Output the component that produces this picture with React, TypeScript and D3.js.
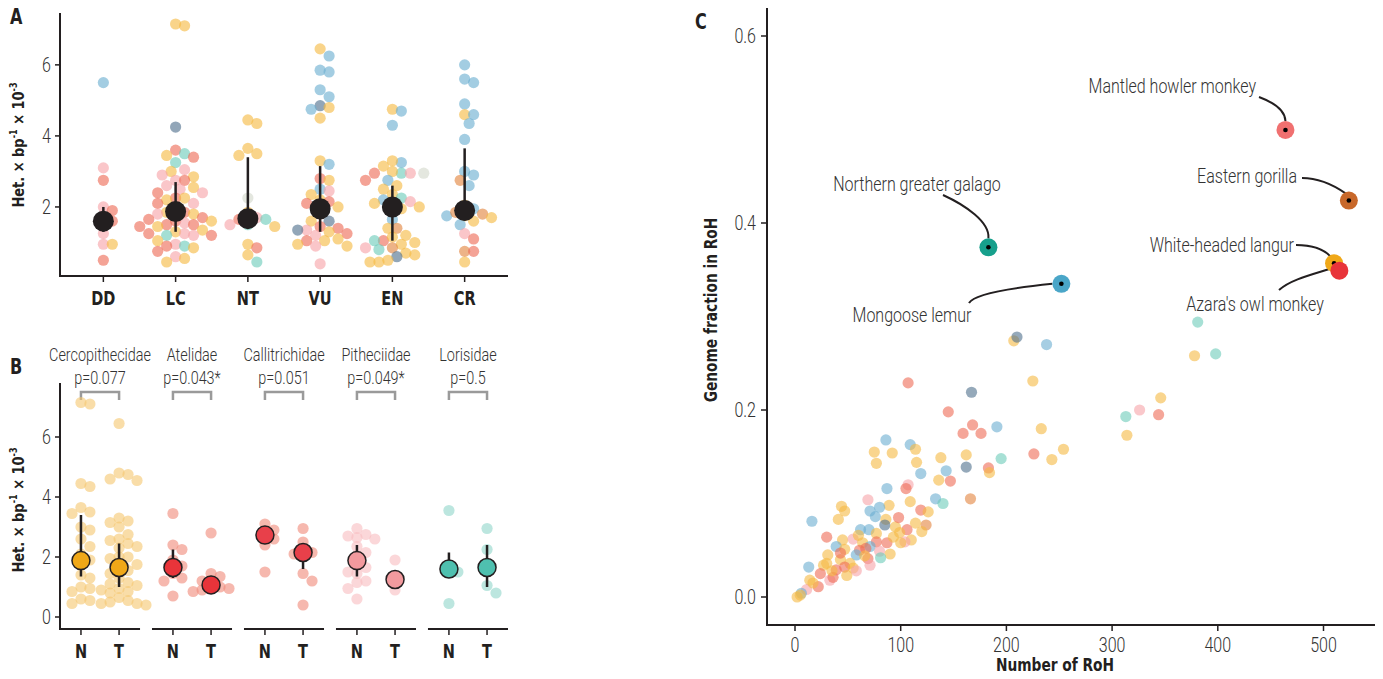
import React from 'react';
import * as d3 from 'd3';

/* ── colours ── */
const COL: Record<string, string> = {
  y: '#F5B942', r: '#EE6A55', p: '#F7A3A8', b: '#6AAED0',
  d: '#4F708C', t: '#6CCBB9', g: '#D3D8CC', o: '#E2843E',
};

/* ── Panel A: heterozygosity by IUCN status (value, colour code) ── */
const statusCats = ['DD', 'LC', 'NT', 'VU', 'EN', 'CR'];
const statusPoints: Record<string, string> = {
  DD: 'b5.5 p3.1 r2.75 p2.0 r1.9 p1.6 r1.6 p1.25 p0.95 y0.95 r0.5',
  LC: 'y7.1 y7.15 d4.25 r3.6 t3.5 y3.45 r3.4 t3.25 p3.05 y3.0 p2.9 y2.85 p2.75 r2.75 p2.6 y2.55 p2.5 r2.4 p2.4 r2.25 y2.2 y2.25 p2.1 r2.1 y1.9 r1.85 y1.85 y1.8 p1.8 r1.7 r1.65 r1.6 y1.6 p1.55 r1.5 r1.5 y1.45 r1.45 y1.35 y1.3 p1.25 r1.25 t1.2 p1.2 r1.2 y1.05 p0.95 t0.9 r0.9 y0.85 r0.75 p0.6 y0.55 y0.45',
  NT: 'y4.45 y4.35 y3.65 y3.5 y3.45 g2.25 y1.85 p1.7 r1.65 t1.65 t1.5 y1.45 p1.5 y0.95 r0.85 y0.65 t0.45',
  VU: 'y6.45 b6.25 b5.85 b5.8 b5.3 b5.1 d4.85 b4.75 y4.8 y4.5 y3.3 b3.2 r2.8 y2.75 b2.5 p2.45 y2.35 y2.2 r2.15 r2.1 y2.0 r1.8 d1.6 y1.6 r1.45 r1.4 p1.35 d1.35 y1.3 r1.25 p1.2 y1.05 r1.05 y1.1 y0.95 p0.9 y0.9 p0.4',
  EN: 'y4.75 b4.7 b4.3 b3.25 y3.3 y3.15 t2.95 p2.95 y3.0 r2.95 b2.75 r2.75 y2.6 y2.5 g2.95 y2.35 t2.25 b2.2 p2.15 y2.1 y2.0 b2.05 y1.95 b1.65 o1.4 y1.4 r1.05 y1.2 y1.15 t1.05 y1.0 y0.95 o0.85 t0.8 p0.85 y0.7 y0.65 d0.6 y0.45 y0.45 y0.5',
  CR: 'b6.0 b5.6 b5.5 b4.9 y4.6 b4.6 b4.35 b3.9 b3.0 b2.9 b2.6 o2.75 y2.05 b1.95 o1.8 y1.75 y1.7 b1.75 o1.85 y1.6 b1.5 p1.25 r1.1 o0.75 r0.75 y0.45',
};
const statusMean = [1.6, 1.87, 1.67, 1.95, 2.0, 1.9];
const statusLo = [1.3, 1.3, 1.4, 1.3, 1.05, 1.62];
const statusHi = [2.0, 2.7, 3.4, 3.15, 2.6, 3.65];

/* ── Panel B: N vs T per family ── */
const families = ['Cercopithecidae', 'Atelidae', 'Callitrichidae', 'Pitheciidae', 'Lorisidae'];
const pvals = ['p=0.077', 'p=0.043*', 'p=0.051', 'p=0.049*', 'p=0.5'];
const famLight = ['#F5C76E', '#F08878', '#F08878', '#F9BDBF', '#8FD6C9'];
const famFill = ['#F0A818', '#E8343A', '#E8404A', '#F29A9E', '#4FC0AF'];
const famN = [
  [7.1, 7.15, 4.45, 4.35, 3.65, 3.5, 3.45, 2.9, 3.0, 2.6, 2.35, 2.1, 1.9, 1.75, 1.4, 1.3, 1.0, 0.95, 0.85, 0.6, 0.55, 0.45],
  [3.45, 2.4, 2.25, 1.9, 1.7, 1.45, 1.3, 1.2, 0.7],
  [3.1, 2.9, 2.75, 2.6, 2.4, 1.5],
  [2.95, 2.7, 2.6, 2.65, 2.75, 2.35, 2.15, 2.05, 1.75, 1.65, 1.5, 1.45, 1.2, 1.15, 0.95, 0.6],
  [3.55, 1.7, 1.5, 0.45],
];
const famT = [
  [6.45, 4.8, 4.75, 4.6, 4.55, 3.3, 3.2, 3.15, 3.0, 2.75, 2.6, 2.55, 2.45, 2.35, 2.3, 2.0, 2.0, 1.95, 1.75, 1.6, 1.55, 1.45, 1.3, 1.15, 1.1, 1.05, 0.95, 0.9, 0.85, 0.8, 0.65, 0.55, 0.5, 0.45, 0.45, 0.4],
  [2.8, 1.45, 1.35, 1.2, 1.1, 1.0, 0.95, 0.9, 0.85],
  [2.95, 2.5, 2.2, 2.15, 2.1, 1.45, 1.2, 0.4],
  [1.9, 1.2, 0.9],
  [2.95, 2.25, 1.05, 0.8],
];
const meanN = [1.88, 1.65, 2.73, 1.88, 1.6];
const loN = [1.35, 1.3, 2.5, 1.35, 1.3];
const hiN = [3.4, 2.25, 2.9, 2.4, 2.15];
const meanT = [1.65, 1.07, 2.15, 1.25, 1.65];
const loT = [1.0, 1.0, 1.6, 1.15, 1.0];
const hiT = [2.45, 1.2, 2.4, 1.35, 2.4];

/* ── Panel C: number of RoH vs genome fraction ── */
const rohPoints =
  't381,.294 y378,.258 t398,.26 y207,.274 d210,.278 b238,.27 y225,.231 r107,.229 d167,.219 y346,.213 p326,.2 t313,.193 r344,.195 y314,.173 ' +
  'r145,.198 r168,.184 r159,.175 r176,.175 b191,.182 y233,.18 y254,.158 y243,.147 r226,.153 t195,.148 b86,.168 b109,.163 y114,.158 y75,.155 ' +
  'y92,.154 y77,.143 y115,.144 y138,.149 y162,.152 d162,.139 r183,.138 y184,.133 b119,.132 b143,.135 y136,.125 r147,.124 p107,.12 r105,.116 ' +
  'b87,.116 o166,.105 b133,.105 t140,.1 y109,.102 p69,.104 y89,.098 y44,.097 y47,.092 b71,.092 b80,.096 r119,.093 y126,.091 b76,.086 y41,.083 ' +
  'b16,.081 y86,.083 d85,.077 o124,.077 y114,.079 r106,.072 b62,.072 b70,.072 y77,.068 y99,.069 r30,.064 y45,.061 p55,.062 b39,.054 y47,.051 ' +
  'y64,.058 r77,.059 r87,.058 y93,.064 y110,.061 p104,.059 b71,.054 r61,.05 r67,.052 p80,.049 y90,.046 y31,.045 b58,.045 r69,.041 t81,.042 ' +
  'b13,.032 y27,.034 y43,.04 y52,.036 p71,.034 r47,.032 r39,.029 r24,.025 y49,.023 p33,.018 y14,.018 r22,.011 p11,.008 b6,.004 y2,0 ' +
  'r36,.021 y55,.031 y30,.036 r43,.047 y17,.015 y5,.002 y60,.066 y95,.075 r98,.085 y120,.07 p58,.028 y35,.028 y66,.044 y100,.058';

/* highlighted species */
const hiNames = ['Mantled howler monkey', 'Eastern gorilla', 'Northern greater galago', 'Mongoose lemur', 'White-headed langur', "Azara's owl monkey"];
const hiX = [464, 524, 183, 252, 510, 515];
const hiY = [0.4995, 0.424, 0.374, 0.335, 0.357, 0.349];
const hiCol = ['#F07070', '#C8682A', '#17A08C', '#4AA6C8', '#F0A818', '#E8343A'];

const parse = (s: string) => s.trim().split(/\s+/).map(t => ({ c: t[0], v: +t.slice(1) }));

// deterministic beeswarm offsets (pixel y given), diameter dd
function swarm(ys: number[], dd: number): number[] {
  const order = ys.map((y, i) => i).sort((a, b) => ys[a] - ys[b]);
  const placed: { x: number; y: number }[] = [];
  const out = new Array(ys.length).fill(0);
  for (const i of order) {
    const y = ys[i];
    let best = 0;
    for (let k = 0; k < 60; k++) {
      const cand = (k % 2 ? 1 : -1) * Math.ceil(k / 2) * dd * 0.4;
      if (placed.every(p => Math.hypot(p.x - cand, p.y - y) >= dd * 0.8)) { best = cand; break; }
    }
    placed.push({ x: best, y });
    out[i] = best;
  }
  return out;
}

const LIGHT = 'Roboto, "DejaVu Sans", sans-serif';
const BOLD = '"DejaVu Sans Condensed", "DejaVu Sans", sans-serif';
const INK = '#231f20';
const R = 5.6;

// condensed light text (no narrow font installed, so squeeze horizontally)
function TL({ x, y, anchor = 'middle', size = 18, children }: { x: number; y: number; anchor?: string; size?: number; children: React.ReactNode }) {
  return (
    <text transform={`translate(${x},${y}) scale(0.8,1)`} textAnchor={anchor as any} fontFamily={LIGHT} fontWeight={300} fontSize={size} fill="#333">
      {children}
    </text>
  );
}

function TB({ x, y, anchor = 'middle', size = 18, children }: { x: number; y: number; anchor?: string; size?: number; children: React.ReactNode }) {
  return (
    <text transform={`translate(${x},${y}) scale(0.85,1)`} textAnchor={anchor as any} fontFamily={BOLD} fontWeight={700} fontSize={size} fill={INK}>
      {children}
    </text>
  );
}

function HetLabel({ x, y }: { x: number; y: number }) {
  return (
    <text transform={`translate(${x},${y}) rotate(-90) scale(0.9,1)`} textAnchor="middle" fontFamily={BOLD} fontWeight={700} fontSize={16} fill={INK}>
      Het. × bp<tspan dy={-7} fontSize={10}>-1</tspan><tspan dy={7}> × 10</tspan><tspan dy={-7} fontSize={10}>-3</tspan>
    </text>
  );
}

function PanelA() {
  const x = d3.scalePoint<string>().domain(statusCats).range([60, 508]).padding(0.6);
  const y = d3.scaleLinear().domain([0, 7.46]).range([278, 13]);
  return (
    <g>
      <TB x={10} y={24} anchor="start" size={21}>A</TB>
      <HetLabel x={24} y={145} />
      {statusCats.map((c, ci) => {
        const pts = parse(statusPoints[c]);
        const off = swarm(pts.map(p => y(p.v)), R * 2);
        const cx = x(c)!;
        return (
          <g key={c}>
            {pts.map((p, i) => (
              <circle key={i} cx={cx + off[i]} cy={y(p.v)} r={R} fill={COL[p.c]} opacity={0.62} />
            ))}
            <line x1={cx} x2={cx} y1={y(statusLo[ci])} y2={y(statusHi[ci])} stroke={INK} strokeWidth={2.5} />
            <circle cx={cx} cy={y(statusMean[ci])} r={10.5} fill={INK} />
          </g>
        );
      })}
      <line x1={60} x2={60} y1={13} y2={277} stroke={INK} strokeWidth={2} />
      <line x1={59} x2={508} y1={276} y2={276} stroke={INK} strokeWidth={2} />
      {[2, 4, 6].map(t => (
        <g key={t}>
          <line x1={55} x2={60} y1={y(t)} y2={y(t)} stroke={INK} strokeWidth={1.5} />
          <TL x={51} y={y(t) + 7} anchor="end" size={20}>{t}</TL>
        </g>
      ))}
      {statusCats.map(c => (
        <g key={c}>
          <line x1={x(c)} x2={x(c)} y1={276} y2={282} stroke={INK} strokeWidth={1.5} />
          <TB x={x(c)!} y={305} size={19}>{c}</TB>
        </g>
      ))}
    </g>
  );
}

function PanelB() {
  const y = d3.scaleLinear().domain([0, 7.8]).range([617, 383]);
  const fx = d3.scaleBand<string>().domain(families).range([60, 508]).paddingInner(0.13);
  return (
    <g>
      <TB x={10} y={374} anchor="start" size={21}>B</TB>
      <HetLabel x={24} y={510} />
      <line x1={60} x2={60} y1={383} y2={630} stroke={INK} strokeWidth={2} />
      {[0, 2, 4, 6].map(t => (
        <g key={t}>
          <line x1={55} x2={60} y1={y(t)} y2={y(t)} stroke={INK} strokeWidth={1.5} />
          <TL x={51} y={y(t) + 7} anchor="end" size={20}>{t}</TL>
        </g>
      ))}
      {families.map((f, fi) => {
        const x0 = fx(f)!;
        const w = fx.bandwidth();
        const sub = d3.scalePoint<string>().domain(['N', 'T']).range([x0, x0 + w]).padding(0.55);
        const groups = [
          { k: 'N', vals: famN[fi], m: meanN[fi], lo: loN[fi], hi: hiN[fi] },
          { k: 'T', vals: famT[fi], m: meanT[fi], lo: loT[fi], hi: hiT[fi] },
        ];
        const xn = sub('N')!, xt = sub('T')!;
        return (
          <g key={f}>
            <TL x={(xn + xt) / 2} y={361} size={18}>{f}</TL>
            <TL x={(xn + xt) / 2} y={384} size={18}>{pvals[fi]}</TL>
            <path d={`M${xn},400V392H${xt}V400`} fill="none" stroke="#9a9a9a" strokeWidth={2.5} />
            {groups.map(g => {
              const cx = sub(g.k)!;
              const off = swarm(g.vals.map(v => y(v)), R * 2);
              return (
                <g key={g.k}>
                  {g.vals.map((v, i) => (
                    <circle key={i} cx={cx + off[i]} cy={y(v)} r={R} fill={famLight[fi]} opacity={0.6} />
                  ))}
                  <line x1={cx} x2={cx} y1={y(g.lo)} y2={y(g.hi)} stroke={INK} strokeWidth={2.5} />
                  <circle cx={cx} cy={y(g.m)} r={9} fill={famFill[fi]} stroke={INK} strokeWidth={1.5} />
                  <line x1={cx} x2={cx} y1={629} y2={635} stroke={INK} strokeWidth={1.5} />
                  <TB x={cx} y={658} size={19}>{g.k}</TB>
                </g>
              );
            })}
            <line x1={x0} x2={x0 + w} y1={629} y2={629} stroke={INK} strokeWidth={2} />
          </g>
        );
      })}
    </g>
  );
}

function PanelC() {
  const x = d3.scaleLinear().domain([0, 100]).range([795, 900.7]);
  const y = d3.scaleLinear().domain([0, 0.6]).range([597, 36]);
  const pts = rohPoints.trim().split(/\s+/).map(t => {
    const [a, b] = t.slice(1).split(',');
    return { c: t[0], x: +a, y: +b };
  });
  const hx = hiX.map(v => x(v)), hy = hiY.map(v => y(v));
  const labels = [
    { tx: 1256, ty: 93, anchor: 'end', path: `M1259,97 C1275,103 1285,110 ${hx[0]},${hy[0] - 9}` },
    { tx: 1297, ty: 183, anchor: 'end', path: `M1302,178 C1320,178 1335,186 ${hx[1] - 3},${hy[1] - 7}` },
    { tx: 917, ty: 191, anchor: 'middle', path: `M943,195 C965,205 990,222 ${hx[2]},${hy[2] - 9}` },
    { tx: 912, ty: 322, anchor: 'middle', path: `M969,303 C975,292 1030,286 ${hx[3] - 9},${hy[3]}` },
    { tx: 1294, ty: 252, anchor: 'end', path: `M1296,245 C1315,245 1325,250 ${hx[4] - 3},${hy[4] - 6}` },
    { tx: 1255, ty: 311, anchor: 'middle', path: `M1279,290 C1290,280 1310,275 ${hx[5] - 9},${hy[5] - 2}` },
  ];
  return (
    <g>
      <TB x={695} y={29} anchor="start" size={21}>C</TB>
      <text transform="translate(717,310) rotate(-90) scale(0.9,1)" textAnchor="middle" fontFamily={BOLD} fontWeight={700} fontSize={17} fill={INK}>Genome fraction in RoH</text>
      <TB x={1055} y={671} size={18}>Number of RoH</TB>
      {pts.map((p, i) => (
        <circle key={i} cx={x(p.x)} cy={y(p.y)} r={R} fill={COL[p.c]} opacity={0.6} />
      ))}
      {labels.map((l, i) => (
        <g key={i}>
          <path d={l.path} fill="none" stroke={INK} strokeWidth={2} />
          <TL x={l.tx} y={l.ty} anchor={l.anchor} size={20}>{hiNames[i]}</TL>
        </g>
      ))}
      {hiNames.map((n, i) => (
        <g key={n}>
          <circle cx={hx[i]} cy={hy[i]} r={9} fill={hiCol[i]} />
          {i !== 5 && <circle cx={hx[i]} cy={hy[i]} r={2.3} fill="#000" />}
        </g>
      ))}
      <line x1={767} x2={767} y1={8} y2={626} stroke={INK} strokeWidth={2} />
      <line x1={766} x2={1375} y1={625} y2={625} stroke={INK} strokeWidth={2} />
      {[0, 0.2, 0.4, 0.6].map(t => (
        <g key={t}>
          <line x1={761} x2={767} y1={y(t)} y2={y(t)} stroke={INK} strokeWidth={1.5} />
          <TL x={756} y={y(t) + 7} anchor="end" size={20}>{t.toFixed(1)}</TL>
        </g>
      ))}
      {[0, 100, 200, 300, 400, 500].map(t => (
        <g key={t}>
          <line x1={x(t)} x2={x(t)} y1={625} y2={631} stroke={INK} strokeWidth={1.5} />
          <TL x={x(t)} y={652} size={20}>{t}</TL>
        </g>
      ))}
    </g>
  );
}

export default function App() {
  return (
    <svg width={1383} height={679} style={{ position: 'absolute', left: 0, top: 0, background: '#fff' }}>
      <PanelA />
      <PanelB />
      <PanelC />
    </svg>
  );
}
